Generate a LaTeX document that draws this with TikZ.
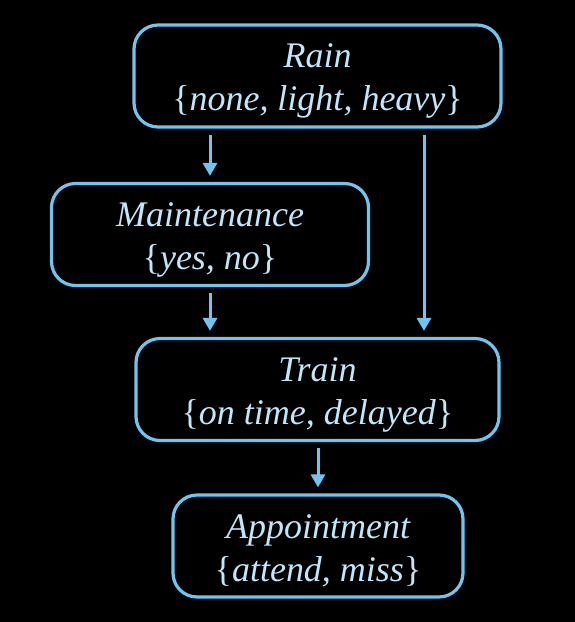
\documentclass[tikz,border=0pt]{standalone}
\usepackage{fontspec}
\setmainfont{Liberation Serif}
\usetikzlibrary{arrows.meta}
\definecolor{lineblue}{HTML}{72C4F0}
\definecolor{textblue}{HTML}{C2E5F8}
\newcommand{\lowerstrut}{\rule{0pt}{34pt}}
\begin{document}
\begin{tikzpicture}[x=1pt,y=-1pt,
  var/.style={draw=lineblue, line width=3.2pt, rounded corners=24pt,
    inner sep=0pt, align=center, text=textblue,
    font=\fontsize{36}{43}\selectfont\itshape, minimum height=102pt},
  arr/.style={draw=lineblue, line width=3pt,
    -{Triangle[width=14pt,length=13pt]}, shorten <=6pt, shorten >=6pt}]
\fill[black] (0,0) rectangle (575,622);
\useasboundingbox (0,0) rectangle (575,622);
\node[var, minimum width=367pt] (rain) at (317.5,76)
  {\lowerstrut Rain\\\textup{\{}none, light, heavy\textup{\}}};
\node[var, minimum width=317pt] (maint) at (210,234.5)
  {\lowerstrut Maintenance\\\textup{\{}yes, no\textup{\}}};
\node[var, minimum width=363pt] (train) at (317.5,389.5)
  {\lowerstrut Train\\\textup{\{}on time, delayed\textup{\}}};
\node[var, minimum width=290pt] (app) at (318,546)
  {\lowerstrut Appointment\\\textup{\{}attend, miss\textup{\}}};
\coordinate (rt) at (424,0);
\draw[arr] (maint.north |- rain.south) -- (maint.north);
\draw[arr] (rain.south -| rt) -- (train.north -| rt);
\draw[arr] (maint.south) -- (maint.south |- train.north);
\draw[arr] (train.south -| app.north) -- (app.north);
\end{tikzpicture}
\end{document}
